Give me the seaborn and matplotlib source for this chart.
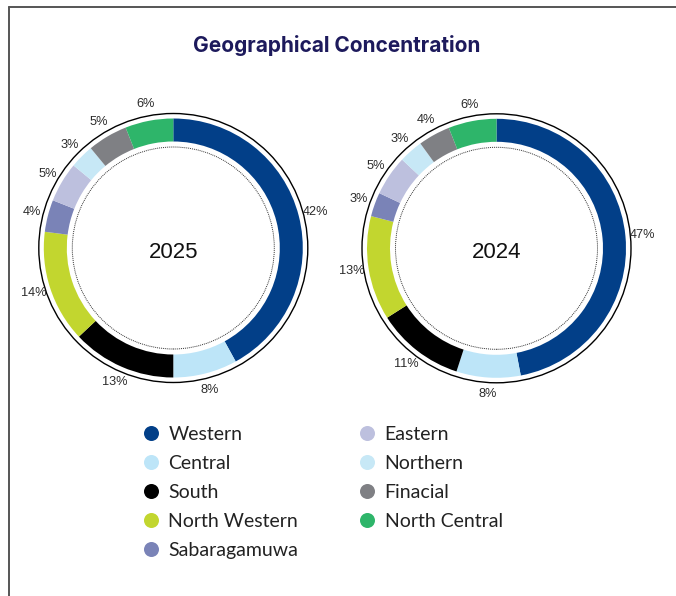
import numpy as np
import matplotlib
matplotlib.use("Agg")
import matplotlib.pyplot as plt
from matplotlib.patches import Circle
from matplotlib.lines import Line2D
import seaborn as sns

# Regional share of the portfolio (%), listed clockwise from 12 o'clock
regions = ["Western", "Central", "South", "North Western", "Sabaragamuwa",
           "Eastern", "Northern", "Finacial", "North Central"]
share_2025 = [42, 8, 13, 14, 4, 5, 3, 5, 6]
share_2024 = [47, 8, 11, 13, 3, 5, 3, 4, 6]
years = ["2025", "2024"]
region_colors = ["#023f88", "#bde5f8", "#000000", "#c2d62f", "#7a83b7",
                 "#bdc0de", "#c7e8f6", "#7f8084", "#2eb56a"]

sns.set_theme(style="white")
plt.rcParams["font.family"] = ["Liberation Sans", "DejaVu Sans"]
palette = sns.color_palette(region_colors)

W, H = 676, 596
fig = plt.figure(figsize=(W / 100, H / 100), dpi=100)
ax = fig.add_axes([0, 0, 1, 1])

R_OUT = 129.5      # outer radius of the coloured ring
RING_W = 23        # ring thickness
centers = [(173.3, 348.0), (496.5, 347.7)]

for year, shares, (cx, cy) in zip(years, [share_2025, share_2024], centers):
    wedges, _, pct_texts = ax.pie(
        shares, colors=palette, startangle=90, counterclock=False,
        center=(cx, cy), radius=R_OUT,
        wedgeprops=dict(width=RING_W, linewidth=0),
        autopct=lambda p: f"{p:.0f}%", pctdistance=1.13,
        textprops=dict(fontsize=9.2, color="#2b2b2b"),
    )
    # thin outer rim and dotted inner guide circle
    ax.add_patch(Circle((cx, cy), R_OUT + 5, fill=False, lw=1.0, ec="black"))
    ax.add_patch(Circle((cx, cy), R_OUT - RING_W - 5.5, fill=False, lw=0.7,
                        ec="#333333", ls=(0, (1, 1))))
    ax.text(cx, cy - 4, year, ha="center", va="center", fontsize=16,
            color="#111111")

ax.set_xlim(0, W)
ax.set_ylim(0, H)
ax.set_aspect("equal")
ax.axis("off")

# Panel frame (left and top edges)
fig.add_artist(Line2D([8.5 / W, 8.5 / W], [0, 1 - 7 / H], transform=fig.transFigure,
                      color="#555555", lw=1.4))
fig.add_artist(Line2D([8.5 / W, 1], [1 - 7 / H, 1 - 7 / H], transform=fig.transFigure,
                      color="#555555", lw=1.4))

fig.text(337 / W, 1 - 46 / H, "Geographical Concentration", ha="center",
         va="center", fontsize=15, fontweight="bold", color="#1d1a5c",
         family=["Inter", "DejaVu Sans"])

handles = [Line2D([], [], ls="none", marker="o", markersize=10.8,
                  markerfacecolor=c, markeredgewidth=0) for c in palette]
leg = fig.legend(handles, regions, ncol=2, loc="upper left",
                 bbox_to_anchor=(141 / W, 1 - 426 / H), frameon=False,
                 prop=dict(family=["Lato", "DejaVu Sans"], size=14),
                 handlelength=1.0, handletextpad=0.4, labelspacing=0.62,
                 columnspacing=3.05, borderpad=0, borderaxespad=0)
for t in leg.get_texts():
    t.set_color("#222222")

fig.savefig("out.png", dpi=100)
